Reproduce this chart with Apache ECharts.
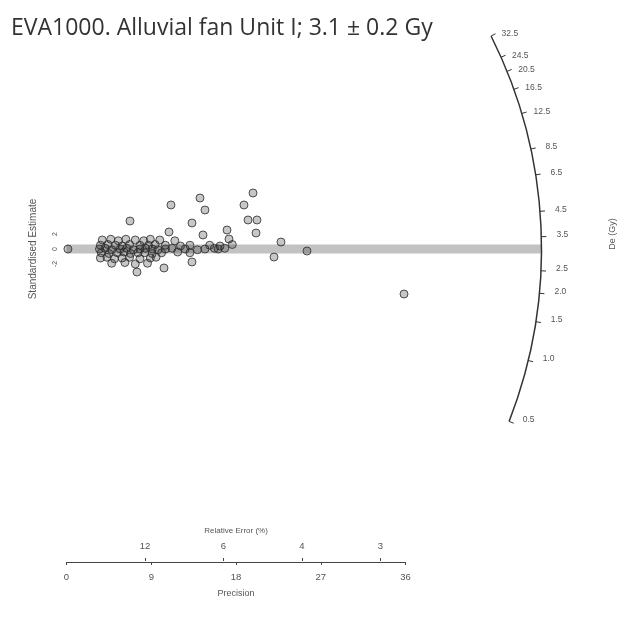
<!DOCTYPE html>
<html>
<head>
<meta charset="utf-8">
<script src="https://cdn.jsdelivr.net/npm/echarts@6/dist/echarts.min.js"></script>
<style>
  html, body { margin: 0; padding: 0; background: #fff; }
  #chart { width: 634px; height: 623px; }
</style>
</head>
<body>
<div id="chart"></div>
<script>
// Radial plot of equivalent doses: x = precision (1/relative error), y = standardised estimate.
const titleText = 'EVA1000. Alluvial fan Unit I; 3.1 \u00b1 0.2 Gy';
const centralDose = 3.1;

// Aliquot values
const precision = [
  6.74, 11.09, 14.17, 14.70, 13.32, 10.88, 14.49, 17.04, 17.25, 18.84,
  19.80, 19.27, 20.22, 20.12, 22.77, 22.03, 25.53, 10.35, 7.48, 13.32,
  35.83, 0.15,
  3.8, 4.7, 5.5, 6.3, 7.3, 8.2, 8.9, 9.9, 11.5,
  3.6, 4.4, 5.2, 5.9, 6.7, 7.8, 8.7, 9.4, 10.5, 12.1, 13.1, 15.2, 16.3, 17.6,
  3.5, 4.1, 4.8, 5.7, 6.4, 7.1, 7.8, 8.4, 9.1, 9.7, 10.5, 11.2, 12.6, 13.9, 14.7, 15.7, 16.1, 16.8,
  3.7, 4.5, 5.4, 6.1, 6.8, 7.6, 8.3, 9.1, 10.1, 11.8, 13.1,
  3.6, 4.3, 5.1, 5.9, 6.7, 7.8, 8.9, 9.5,
  4.8, 6.2, 7.3, 8.6
];
const stdEstimate = [
  3.73, 5.87, 6.80, 5.20, 3.47, 2.27, 1.87, 2.53, 1.33, 5.87,
  7.47, 3.87, 3.87, 2.13, 0.93, -1.07, -0.27, -2.53, -3.07, -1.73,
  -6.00, 0.0,
  1.2, 1.3, 1.1, 1.3, 1.2, 1.1, 1.3, 1.2, 1.1,
  0.5, 0.6, 0.5, 0.4, 0.6, 0.5, 0.5, 0.6, 0.5, 0.4, 0.5, 0.5, 0.4, 0.6,
  0.0, 0.1, -0.1, 0.0, 0.1, -0.1, 0.0, 0.1, 0.0, -0.1, 0.0, 0.1, 0.0, -0.1, 0.0, 0.1, 0.0, 0.1,
  -0.5, -0.6, -0.5, -0.4, -0.6, -0.5, -0.5, -0.6, -0.5, -0.4, -0.5,
  -1.2, -1.1, -1.3, -1.2, -1.1, -1.3, -1.2, -1.1,
  -1.9, -1.8, -2.0, -1.9
];

// Axis ticks
const precisionTicks = [0, 9, 18, 27, 36];
const relErrTicks = [12, 6, 4, 3];
const yTicks = [-2, 0, 2];
const doseTicks = [32.5, 24.5, 20.5, 16.5, 12.5, 8.5, 6.5, 4.5, 3.5, 2.5, 2.0, 1.5, 1.0, 0.5];
const doseLabels = ['32.5', '24.5', '20.5', '16.5', '12.5', '8.5', '6.5', '4.5', '3.5', '2.5', '2.0', '1.5', '1.0', '0.5'];

// Layout constants (pixels)
const originX = 66.5;
const originY = 249;
const pxPerX = 9.42;
const pxPerY = 7.5;
const xMax = 60, yMax = 30, yMin = -40;
const arcRadius = 475;      // radius of the dose scale arc
const arcSlope = 0.2135;    // angular scaling of log-dose around the central value
const bandHalf = 0.6;       // half-width of the shaded central band, standardised units

function doseAngle(d) {
  return Math.atan(arcSlope * (Math.log(d) - Math.log(centralDose)));
}

const chart = echarts.init(document.getElementById('chart'), null, { renderer: 'canvas' });

const axisFont = { fontFamily: 'Liberation Sans, Arial, sans-serif', color: '#555' };

const option = {
  animation: false,
  backgroundColor: '#fff',
  title: {
    text: titleText,
    left: 6,
    top: 12,
    textStyle: { fontFamily: 'Open Sans', fontSize: 23, fontWeight: 'normal', color: '#333' }
  },
  graphic: [{
    type: 'text',
    x: 613, y: 234,
    rotation: Math.PI / 2,
    style: { text: 'De (Gy)', fill: '#555', font: '9px Liberation Sans, Arial, sans-serif', align: 'center', verticalAlign: 'middle' }
  }],
  grid: [
    { left: originX, top: originY - yMax * pxPerY, width: xMax * pxPerX, height: (yMax - yMin) * pxPerY },
    { left: originX, top: 561, width: 36 * pxPerX, height: 1 },
    { left: originX, top: originY - 2 * pxPerY, width: 1, height: 4 * pxPerY }
  ],
  xAxis: [
    { gridIndex: 0, type: 'value', min: 0, max: xMax, show: false },
    {
      gridIndex: 1, type: 'value', min: 0, max: 36, interval: 9, position: 'bottom',
      axisLine: { lineStyle: { color: '#444', width: 1 } },
      axisTick: { length: 3, lineStyle: { color: '#444' } },
      axisLabel: Object.assign({ fontSize: 9.5, margin: 10, formatter: v => precisionTicks.includes(v) ? String(v) : '' }, axisFont),
      splitLine: { show: false },
      name: 'Precision', nameLocation: 'middle', nameGap: 27,
      nameTextStyle: Object.assign({ fontSize: 9 }, axisFont)
    },
    {
      gridIndex: 1, type: 'value', min: 0, max: 36, position: 'top',
      axisLine: { show: false },
      axisTick: { length: 3, lineStyle: { color: '#444' }, customValues: relErrTicks.map(e => 100 / e) },
      axisLabel: Object.assign({ fontSize: 9.5, margin: 10, customValues: relErrTicks.map(e => 100 / e), formatter: v => String(Math.round(100 / v)) }, axisFont),
      splitLine: { show: false },
      name: 'Relative Error (%)', nameLocation: 'middle', nameGap: 26,
      nameTextStyle: Object.assign({ fontSize: 8 }, axisFont)
    },
    { gridIndex: 2, type: 'value', min: 0, max: 1, show: false }
  ],
  yAxis: [
    { gridIndex: 0, type: 'value', min: yMin, max: yMax, show: false },
    { gridIndex: 1, type: 'value', show: false },
    {
      gridIndex: 2, type: 'value', min: -2, max: 2, interval: 2,
      axisLine: { show: false },
      axisTick: { show: false },
      axisLabel: Object.assign({ fontSize: 7, margin: 8, rotate: 90, formatter: v => yTicks.includes(v) ? String(v) : '' }, axisFont),
      splitLine: { show: false },
      name: 'Standardised Estimate', nameLocation: 'middle', nameRotate: 90, nameGap: 28,
      nameTextStyle: Object.assign({ fontSize: 10 }, axisFont)
    }
  ],
  series: [
    {
      // central band and dose arc
      type: 'custom',
      xAxisIndex: 0, yAxisIndex: 0,
      silent: true,
      z: 1,
      clip: false,
      data: [[0, 0]],
      renderItem: function (params, api) {
        const o = api.coord([0, 0]);
        const hw = bandHalf * pxPerY;
        const bandEnd = Math.sqrt(arcRadius * arcRadius - hw * hw);
        const a0 = -doseAngle(doseTicks[0]);
        const a1 = -doseAngle(doseTicks[doseTicks.length - 1]);
        return {
          type: 'group',
          children: [
            {
              type: 'rect',
              shape: { x: o[0], y: o[1] - hw, width: bandEnd, height: 2 * hw },
              style: { fill: '#c2c2c2' }
            },
            {
              type: 'arc',
              shape: { cx: o[0], cy: o[1], r: arcRadius, startAngle: a0, endAngle: a1, clockwise: true },
              style: { stroke: '#333', lineWidth: 1.5, fill: null }
            }
          ]
        };
      }
    },
    {
      // dose ticks and labels along the arc
      type: 'custom',
      xAxisIndex: 0, yAxisIndex: 0,
      silent: true,
      z: 2,
      clip: false,
      data: doseTicks.map((d, i) => [d, i]),
      renderItem: function (params, api) {
        const o = api.coord([0, 0]);
        const d = api.value(0);
        const i = api.value(1);
        const t = doseAngle(d);
        const c = Math.cos(t), s = Math.sin(t);
        return {
          type: 'group',
          children: [
            {
              type: 'line',
              shape: {
                x1: o[0] + arcRadius * c, y1: o[1] - arcRadius * s,
                x2: o[0] + (arcRadius + 5) * c, y2: o[1] - (arcRadius + 5) * s
              },
              style: { stroke: '#333', lineWidth: 1 }
            },
            {
              type: 'text',
              x: o[0] + (arcRadius + 21) * c,
              y: o[1] - arcRadius * s - 2,
              style: {
                text: doseLabels[i], fill: '#555',
                font: '8.5px Liberation Sans, Arial, sans-serif',
                align: 'center', verticalAlign: 'middle'
              }
            }
          ]
        };
      }
    },
    {
      type: 'scatter',
      xAxisIndex: 0, yAxisIndex: 0,
      z: 3,
      symbol: 'circle',
      symbolSize: 8,
      itemStyle: { color: 'rgba(40,40,40,0.33)', borderColor: '#2a2a2a', borderWidth: 1 },
      data: precision.map((p, i) => [p, stdEstimate[i]])
    }
  ]
};

chart.setOption(option);
</script>
</body>
</html>
